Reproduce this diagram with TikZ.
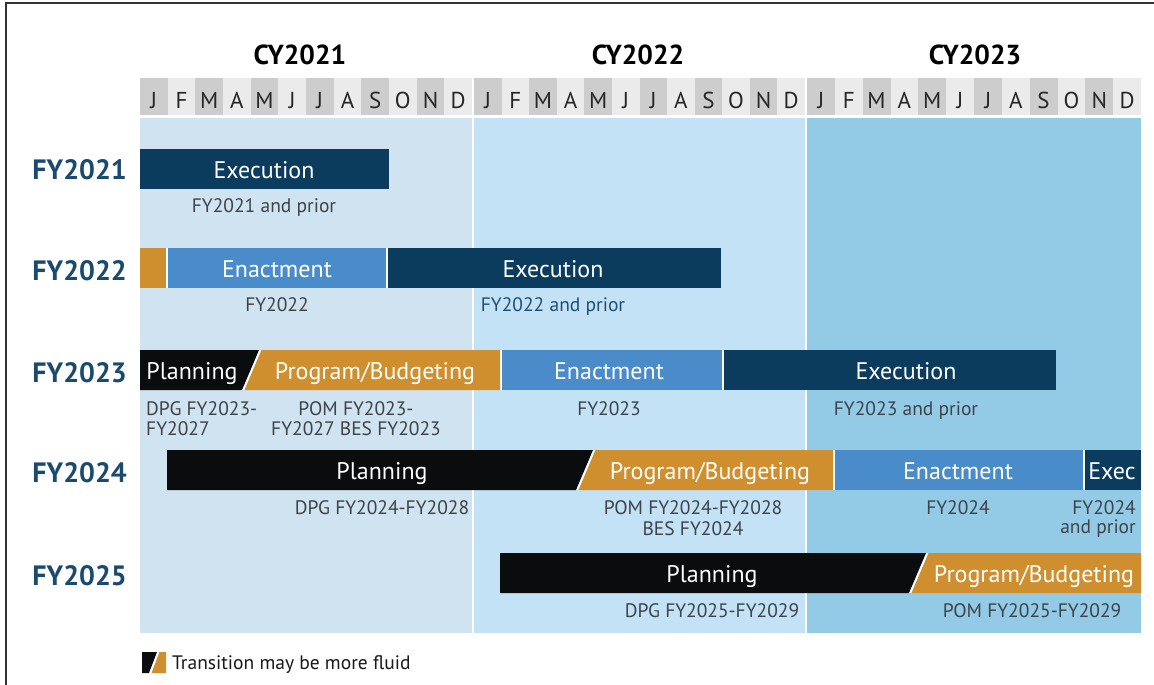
\documentclass[tikz,border=0pt]{standalone}
\usepackage{fontspec}
\setmainfont{PT Sans}
\definecolor{cyA}{HTML}{CFE3F1}
\definecolor{cyB}{HTML}{C3E2F5}
\definecolor{cyC}{HTML}{93CBE7}
\definecolor{mdark}{HTML}{CDCDCD}
\definecolor{mlight}{HTML}{EBEBEB}
\definecolor{execc}{HTML}{0B3C5E}
\definecolor{enactc}{HTML}{4A8CCA}
\definecolor{orngc}{HTML}{CF8F2E}
\definecolor{blkc}{HTML}{0A0C0E}
\definecolor{fyblue}{HTML}{1A4A6E}
\definecolor{subgray}{HTML}{3D4349}
\definecolor{priorblue}{HTML}{1F4F73}
\tikzset{
  seg/.style={inner sep=0pt, anchor=base, text=white, font=\fontsize{24}{26}\selectfont},
  sub/.style={inner sep=0pt, anchor=base, text=subgray, font=\fontsize{19.5}{21}\selectfont},
  fylab/.style={inner sep=0pt, anchor=base east, text=fyblue, font=\bfseries\fontsize{28}{30}\selectfont},
  cylab/.style={inner sep=0pt, anchor=base, text=black, font=\bfseries\fontsize{27.5}{29}\selectfont},
  monlab/.style={inner sep=0pt, anchor=base, text=black!85, font=\fontsize{23}{25}\selectfont},
  execf/.style={fill=execc},
  enactf/.style={fill=enactc},
  orngf/.style={fill=orngc},
  blkf/.style={fill=blkc},
}
\begin{document}
\begin{tikzpicture}[x=1pt,y=-1pt]
\useasboundingbox (0,0) rectangle (1154,685);
\fill[white] (0,0) rectangle (1154,685);
% frame
\draw[line width=1.5pt, black!80] (6,685) -- (6,3) -- (1154,3);
% year backgrounds
\fill[cyA] (140,118) rectangle (472,633);
\fill[cyB] (474,118) rectangle (805,633);
\fill[cyC] (807,118) rectangle (1141,633);
% headers
\node[cylab] (cy21) at (300,64) {CY2021};
\node[cylab] (cy22) at (638,64) {CY2022};
\node[cylab] (cy23) at (975,64) {CY2023};
% months
\foreach \ys/\ye [count=\k] in {140/472, 474/805, 807/1141} {
  \pgfmathsetmacro{\w}{(\ye-\ys)/12}
  \foreach \m [count=\j from 0] in {J,F,M,A,M,J,J,A,S,O,N,D} {
    \pgfmathsetmacro{\xa}{\ys+\j*\w}
    \pgfmathsetmacro{\xb}{\ys+(\j+1)*\w}
    \ifodd\j
      \fill[mlight] (\xa,78) rectangle (\xb,115);
    \else
      \fill[mdark] (\xa,78) rectangle (\xb,115);
    \fi
    \node[monlab] (m\k-\j) at ({(\xa+\xb)/2},108) {\m};
  }
}
% row labels
\node[fylab] (fy21) at (127,179) {FY2021};
\node[fylab] (fy22) at (127,280) {FY2022};
\node[fylab] (fy23) at (127,382) {FY2023};
\node[fylab] (fy24) at (127,482) {FY2024};
\node[fylab] (fy25) at (127,585) {FY2025};
% FY2021
\fill[execf] (140,149) rectangle (389,189);
\node[seg] (b21e) at (264,178) {Execution};
\node[sub] (s21e) at (264,212) {FY2021 and prior};
% FY2022
\fill[white] (140,248) rectangle (721,288);
\fill[orngf] (140,248) rectangle (166,288);
\fill[enactf] (167.5,248) rectangle (386,288);
\fill[execf] (387.5,248) rectangle (721,288);
\node[seg] (b22n) at (277,277) {Enactment};
\node[seg] (b22e) at (553,277) {Execution};
\node[sub] (s22n) at (277,311) {FY2022};
\node[sub, text=priorblue] (s22e) at (553,311) {FY2022 and prior};
% FY2023
\fill[white] (140,350) rectangle (1056,390);
\fill[blkf] (140,350) -- (259,350) -- (242,390) -- (140,390) -- cycle;
\fill[orngf] (261.5,350) -- (500,350) -- (500,390) -- (244.5,390) -- cycle;
\fill[enactf] (501.5,350) rectangle (722,390);
\fill[execf] (723.5,350) rectangle (1056,390);
\node[seg] (b23p) at (192,379) {Planning};
\node[seg] (b23b) at (375,379) {Program/Budgeting};
\node[seg] (b23n) at (609,379) {Enactment};
\node[seg] (b23e) at (906,379) {Execution};
\node[sub, anchor=base west] (s23p1) at (146,415) {DPG FY2023-};
\node[sub, anchor=base west] (s23p2) at (146,435) {FY2027};
\node[sub] (s23b1) at (356,415) {POM FY2023-};
\node[sub] (s23b2) at (356,435) {FY2027 BES FY2023};
\node[sub] (s23n) at (609,415) {FY2023};
\node[sub] (s23e) at (906,415) {FY2023 and prior};
% FY2024
\fill[white] (167,450) rectangle (1141,490);
\fill[blkf] (167,450) -- (593,450) -- (576,490) -- (167,490) -- cycle;
\fill[orngf] (595.5,450) -- (833,450) -- (833,490) -- (578.5,490) -- cycle;
\fill[enactf] (835,450) rectangle (1083,490);
\fill[execf] (1085,450) rectangle (1141,490);
\node[seg] (b24p) at (382,479) {Planning};
\node[seg] (b24b) at (710,479) {Program/Budgeting};
\node[seg] (b24n) at (958,479) {Enactment};
\node[seg] (b24e) at (1112,479) {Exec};
\node[sub] (s24p) at (382,514) {DPG FY2024-FY2028};
\node[sub] (s24b1) at (693,514) {POM FY2024-FY2028};
\node[sub] (s24b2) at (693,535) {BES FY2024};
\node[sub] (s24n) at (958,514) {FY2024};
\node[sub, anchor=base east] (s24e1) at (1136,514) {FY2024};
\node[sub, anchor=base east] (s24e2) at (1136,533) {and prior};
% FY2025
\fill[white] (500,553) rectangle (1141,593);
\fill[blkf] (500,553) -- (926,553) -- (909,593) -- (500,593) -- cycle;
\fill[orngf] (928.5,553) -- (1141,553) -- (1141,593) -- (911.5,593) -- cycle;
\node[seg] (b25p) at (712,582) {Planning};
\node[seg] (b25b) at (1034,582) {Program/Budgeting};
\node[sub] (s25p) at (712,617) {DPG FY2025-FY2029};
\node[sub] (s25b) at (1032,617) {POM FY2025-FY2029};
% legend
\fill[blkf] (142,652) -- (157,652) -- (149,673) -- (142,673) -- cycle;
\fill[orngf] (159.5,652) -- (166,652) -- (166,673) -- (151.5,673) -- cycle;
\node[inner sep=0pt, anchor=base west, text=black!90, font=\fontsize{19.5}{21}\selectfont] (leg) at (172,669) {Transition may be more fluid};
\end{tikzpicture}
\end{document}
